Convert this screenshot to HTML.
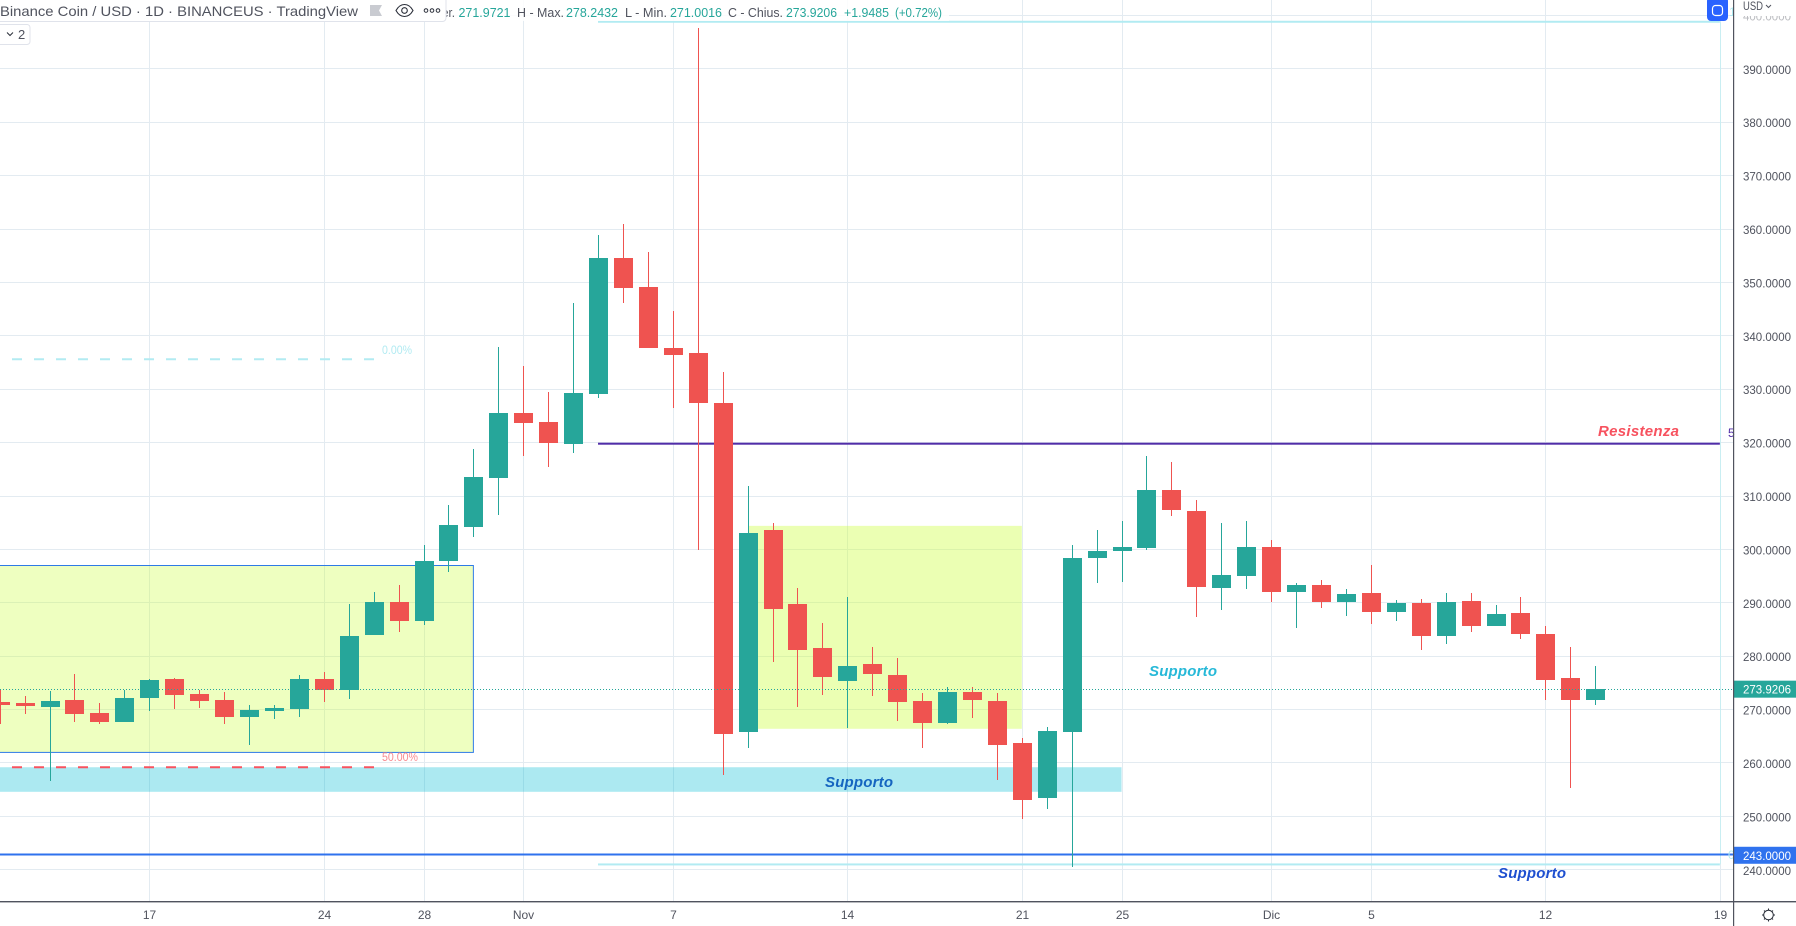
<!DOCTYPE html>
<html lang="en">
<head>
<meta charset="utf-8">
<title>Binance Coin / USD 1D chart</title>
<style>
html,body{margin:0;padding:0;background:#fff;width:1796px;height:926px;overflow:hidden}
svg{display:block;font-family:"Liberation Sans",sans-serif}
</style>
</head>
<body>
<svg id="chart" xmlns="http://www.w3.org/2000/svg" width="1796" height="926" viewBox="0 0 1796 926">
  <rect x="0" y="0" width="1796" height="926" fill="#ffffff"/>
  <g id="grid"></g>
  <g id="drawings"></g>
  <g id="candles"></g>
  <g id="lastline"></g>
  <g id="annot"></g>

  <!-- price axis -->
  <g id="priceaxis"></g>
  <rect x="1734" y="0" width="62" height="16" fill="#ffffff"/>
  <rect x="1734" y="16" width="62" height="6" fill="#ffffff" fill-opacity="0.6"/>
  <text x="1743" y="10" font-size="11.5" fill="#50535e" textLength="20" lengthAdjust="spacingAndGlyphs">USD</text>
  <polyline points="1766,5 1768.5,7.5 1771,5" fill="none" stroke="#50535e" stroke-width="1"/>

  <!-- time axis -->
  <g id="timeaxis"></g>
  <rect x="0" y="901" width="1796" height="1.4" fill="#50535e"/>
  <rect x="1733" y="0" width="1.2" height="926" fill="#50535e"/>

  <!-- settings gear -->
  <g stroke="#2a2e39" stroke-width="1" fill="none">
    <circle cx="1768.5" cy="915" r="4.8"/>
    <path d="M1768.5 908.5v2M1768.5 919.5v2M1762 915h2M1773 915h2M1764 910.5l1.3 1.3M1771.7 918.2l1.3 1.3M1764 919.5l1.3-1.3M1771.7 911.8l1.3-1.3"/>
  </g>

  <!-- fullscreen toggle -->
  <rect x="1707" y="-3" width="21" height="24" rx="4" fill="#2962ff"/>
  <rect x="1712.5" y="5.5" width="10" height="10" rx="3" fill="none" stroke="#ffffff" stroke-width="1.2"/>

  <!-- OHLC legend -->
  <rect x="446" y="0" width="503" height="21" fill="#ffffff" fill-opacity="0.85"/>
  <g font-size="13">
    <text x="442" y="17" fill="#50535e" textLength="13" lengthAdjust="spacingAndGlyphs">er.</text>
    <text x="458.5" y="17" fill="#26a69a" textLength="52" lengthAdjust="spacingAndGlyphs">271.9721</text>
    <text x="517" y="17" fill="#50535e" textLength="47" lengthAdjust="spacingAndGlyphs">H - Max.</text>
    <text x="566" y="17" fill="#26a69a" textLength="52" lengthAdjust="spacingAndGlyphs">278.2432</text>
    <text x="625" y="17" fill="#50535e" textLength="42" lengthAdjust="spacingAndGlyphs">L - Min.</text>
    <text x="670" y="17" fill="#26a69a" textLength="52" lengthAdjust="spacingAndGlyphs">271.0016</text>
    <text x="728" y="17" fill="#50535e" textLength="55" lengthAdjust="spacingAndGlyphs">C - Chius.</text>
    <text x="786" y="17" fill="#26a69a" textLength="51" lengthAdjust="spacingAndGlyphs">273.9206</text>
    <text x="844" y="17" fill="#26a69a" textLength="45" lengthAdjust="spacingAndGlyphs">+1.9485</text>
    <text x="895" y="17" fill="#26a69a" textLength="47" lengthAdjust="spacingAndGlyphs">(+0.72%)</text>
  </g>

  <!-- title pill -->
  <path d="M-2 -2H446V18a3.5 3.5 0 0 1-3.5 3.5H-2Z" fill="#ffffff" stroke="#e0e3eb" stroke-width="1"/>
  <text x="0" y="16" font-size="14" fill="#50535e" textLength="358" lengthAdjust="spacingAndGlyphs">Binance Coin / USD · 1D · BINANCEUS · TradingView</text>
  <path d="M370 5h12l-3 5.5 3 5.5h-12z" fill="#c9cbd1"/>
  <g fill="none" stroke="#2a2e39" stroke-width="1.1">
    <path d="M396 10.5c2.5-4.5 5.5-6 8.5-6s6 1.5 8.5 6c-2.5 4.5-5.5 6-8.5 6s-6-1.5-8.5-6z"/>
    <circle cx="404.5" cy="10.5" r="2.8"/>
  </g>
  <g fill="none" stroke="#2a2e39" stroke-width="1">
    <circle cx="426" cy="10.5" r="1.8"/><circle cx="432" cy="10.5" r="1.8"/><circle cx="438" cy="10.5" r="1.8"/>
  </g>

  <!-- collapse indicators -->
  <rect x="-4" y="24.5" width="34" height="20" rx="3" fill="#ffffff" stroke="#e0e3eb"/>
  <polyline points="7,32.5 10,35.5 13,32.5" fill="none" stroke="#2a2e39" stroke-width="1"/>
  <text x="18" y="39" font-size="13" fill="#50535e">2</text>
</svg>

<script>
// ---- chart data ----
var firstDate = '2022-10-11';
var priceTicks = [240,250,260,270,280,290,300,310,320,330,340,350,360,370,380,390,400];
var timeTickDates = ['2022-10-17','2022-10-24','2022-10-28','2022-11-01','2022-11-07','2022-11-14','2022-11-21','2022-11-25','2022-12-01','2022-12-05','2022-12-12','2022-12-19'];
var timeTickLabels = ['17','24','28','Nov','7','14','21','25','Dic','5','12','19'];
var opens = [271.5,271.3,270.6,271.9,269.5,267.8,272.3,275.8,273,271.9,
268.7,269.8,270.2,275.8,273.8,284.1,290.2,286.7,297.9,304.3,
313.5,325.6,324,319.8,329.2,354.7,349.2,337.8,336.9,327.5,
265.9,303.7,289.9,281.6,275.4,278.6,276.6,271.7,267.6,273.4,
271.7,263.8,253.6,265.9,298.5,299.8,300.4,311.2,307.3,292.9,
295.1,300.5,292.1,293.4,290.2,291.9,288.4,290,283.9,290.4,
285.7,288.2,284.2,276,271.97];
var highs = [273.9,272.6,273.6,276.8,271.3,273.8,275.8,276,273.8,273.4,
271,271,276.6,277.1,289.9,292.1,293.4,300.9,308.4,318.9,
338,334.4,329.6,346.2,359,361,355.8,344.7,397.7,333.3,
312,305,292.9,286.3,291.2,281.8,279.8,273.2,274.4,274.4,
273.2,264.8,266.9,300.9,303.7,305.4,317.6,316.5,309.4,305,
305.4,301.9,293.8,294.4,292.7,297.2,290.6,290.8,291.9,291.9,
289.7,291.2,285.7,281.8,278.24];
var lows = [267.4,269.3,256.8,267.8,267.4,267.8,269.8,270.2,270.4,267.4,
263.5,268.3,268.7,271.5,272.1,284.1,284.6,285.9,295.9,302.4,
306.5,317.6,315.5,318.1,328.5,346.2,337.8,326.6,300,257.8,
262.9,279,270.6,272.8,266.6,272.6,267.9,262.9,267.4,268.5,
256.9,249.6,251.5,240.6,293.8,294,300,306.4,287.4,288.7,
292.7,290.2,285.4,289.1,287.6,286.1,286.7,281.3,282.4,284.6,
285.7,283.3,271.9,255.5,271];
var closes = [271,270.8,271.7,269.3,267.8,272.3,275.6,272.8,271.7,268.7,
270,270.4,275.8,273.8,283.9,290.2,286.7,297.9,304.7,313.6,
325.6,323.8,320,329.4,354.7,349,337.8,336.5,327.5,265.5,
303.2,289,281.3,276.2,278.3,276.8,271.5,267.6,273.4,271.9,
263.5,253.2,266.1,298.5,299.8,300.5,311.2,307.5,293.1,295.3,
300.5,292.1,293.4,290.2,291.7,288.4,290,283.9,290.2,285.7,
288,284.2,275.6,271.8,273.92];
var lastPrice = 273.9206;
var supportLevel = 243;
var resistanceLevel = 320;
var fibZeroLevel = 335.7;
var fibHalfLevel = 259.3;
var fibOuterHigh = 398.9;
var fibOuterLow = 241.1;
var bandHigh = 259.3;
var bandLow = 254.7;
var leftBoxHigh = 297.1;
var leftBoxLow = 262.1;
var midBoxHigh = 304.5;
var midBoxLow = 266.5;

// ---- axis functions ----
var PLOT_RIGHT = 1733;
function yOf(p){ return 69.3 + (390 - p) * 5.34; }
function xOfIndex(i){ return -0.3 + i * 24.93; }
function xOfDate(d){
  var ms = Date.parse(d + 'T00:00:00Z') - Date.parse(firstDate + 'T00:00:00Z');
  return xOfIndex(ms / 86400000);
}
function fmt(p){ return p.toFixed(4); }

var NS = 'http://www.w3.org/2000/svg';
function mk(parent, tag, attrs, txt){
  var el = document.createElementNS(NS, tag);
  for (var k in attrs) el.setAttribute(k, attrs[k]);
  if (txt !== undefined) el.textContent = txt;
  parent.appendChild(el);
  return el;
}
var grid = document.getElementById('grid');
var drawings = document.getElementById('drawings');
var candles = document.getElementById('candles');
var lastline = document.getElementById('lastline');
var annot = document.getElementById('annot');
var priceaxis = document.getElementById('priceaxis');
var timeaxis = document.getElementById('timeaxis');
var GRID = '#e3ebf1', UP = '#26a69a', DOWN = '#ef5350', AXIS = '#50535e';

// ---- grid and axis labels ----
priceTicks.forEach(function(p){
  var y = Math.round(yOf(p)) - 0.5;
  var g = mk(grid, 'line', {x1:0, x2:PLOT_RIGHT, y1:y, y2:y, stroke:GRID, 'stroke-width':1});
  
  
  var t = mk(priceaxis, 'text', {x:1743, y:yOf(p) + 4.5, 'font-size':11.8, fill:AXIS, textLength:48, lengthAdjust:'spacingAndGlyphs'}, fmt(p));
  
  
});
timeTickDates.forEach(function(d, i){
  var x = Math.round(xOfDate(d)) + 0.5;
  var g = mk(grid, 'line', {x1:x, x2:x, y1:0, y2:901, stroke:GRID, 'stroke-width':1});
  
  
  var t = mk(timeaxis, 'text', {x:x, y:919, 'font-size':12, fill:AXIS, 'text-anchor':'middle'}, timeTickLabels[i]);
  
  
});

// ---- drawings ----
var xLeft = xOfDate('2022-10-01');
var xFibStart = xOfDate('2022-11-04');
var xFibEnd = xOfDate('2022-12-19');

var band = mk(drawings, 'rect', {x:xLeft, y:yOf(bandHigh), width:xOfDate('2022-11-25') - xLeft, height:yOf(bandLow) - yOf(bandHigh), fill:'rgba(0,188,212,0.325)'});



var leftBox = mk(drawings, 'rect', {x:xLeft, y:Math.round(yOf(leftBoxHigh)) + 0.5, width:xOfDate('2022-10-30') - xLeft, height:yOf(leftBoxLow) - yOf(leftBoxHigh), fill:'rgba(204,255,64,0.33)', stroke:'#2e7ae6', 'stroke-width':1});



var midX = xOfDate('2022-11-10') + 1;
var midBox = mk(drawings, 'rect', {x:midX, y:yOf(midBoxHigh), width:xOfDate('2022-11-21') - midX, height:yOf(midBoxLow) - yOf(midBoxHigh), fill:'rgba(204,255,64,0.4)'});



var fibTop = mk(drawings, 'rect', {x:xFibStart, y:yOf(fibOuterHigh) - 1, width:xFibEnd - xFibStart, height:2, fill:'#b2ebf2'});



var fibBottom = mk(drawings, 'rect', {x:xFibStart, y:yOf(fibOuterLow) - 1, width:xFibEnd - xFibStart, height:2, fill:'#b2ebf2'});



var fibEdge = mk(drawings, 'line', {x1:Math.round(xFibEnd) + 0.5, x2:Math.round(xFibEnd) + 0.5, y1:yOf(fibOuterHigh), y2:yOf(fibOuterLow), stroke:'#c9eef2', 'stroke-width':1});



var resLine = mk(drawings, 'rect', {x:xFibStart, y:yOf(resistanceLevel) - 0.4, width:xFibEnd - xFibStart, height:2, fill:'#512da8'});



var supLine = mk(drawings, 'rect', {x:0, y:Math.round(yOf(supportLevel)) - 0.5, width:PLOT_RIGHT, height:2, fill:'#2f72ee'});



var dashCyan = mk(drawings, 'line', {x1:12, x2:375, y1:yOf(fibZeroLevel), y2:yOf(fibZeroLevel), stroke:'#b2ebf2', 'stroke-width':2, 'stroke-dasharray':'10 12'});



var dashRed = mk(drawings, 'line', {x1:12, x2:375, y1:yOf(fibHalfLevel), y2:yOf(fibHalfLevel), stroke:'#f7525f', 'stroke-width':2, 'stroke-dasharray':'10 12'});



// ---- candles ----
opens.forEach(function(o, i){
  var c = closes[i], col = c >= o ? UP : DOWN;
  var cx = Math.round(xOfIndex(i));
  var top = Math.round(yOf(Math.max(o, c)));
  var bot = Math.round(yOf(Math.min(o, c)));
  var hy = Math.round(yOf(highs[i]));
  var ly = Math.round(yOf(lows[i]));
  var w = mk(candles, 'rect', {x:cx, y:hy, width:1, height:Math.max(1, ly - hy), fill:col});
  
  
  var b = mk(candles, 'rect', {x:cx - 9, y:top, width:19, height:Math.max(1, bot - top), fill:col});
  
  
});

// ---- last price line ----
var ly0 = Math.round(yOf(lastPrice)) + 0.5;
var dotted = mk(lastline, 'line', {x1:0, x2:PLOT_RIGHT, y1:ly0, y2:ly0, stroke:'#26a69a', 'stroke-width':1, 'stroke-dasharray':'1 2'});



// ---- annotation text ----
var a1 = mk(annot, 'text', {x:825, y:787, 'font-size':15, 'font-style':'italic', 'font-weight':'bold', fill:'#1565c0', textLength:68, lengthAdjust:'spacing'}, 'Supporto');


var a2 = mk(annot, 'text', {x:1149, y:676, 'font-size':15, 'font-style':'italic', 'font-weight':'bold', fill:'#27b9d8', textLength:68, lengthAdjust:'spacing'}, 'Supporto');


var a3 = mk(annot, 'text', {x:1498, y:878, 'font-size':15, 'font-style':'italic', 'font-weight':'bold', fill:'#1e4fd0', textLength:68, lengthAdjust:'spacing'}, 'Supporto');


var a4 = mk(annot, 'text', {x:1598, y:436, 'font-size':15, 'font-style':'italic', 'font-weight':'bold', fill:'#f7525f', textLength:81, lengthAdjust:'spacing'}, 'Resistenza');


var a5 = mk(annot, 'text', {x:382, y:354, 'font-size':12, fill:'#b2ebf2', textLength:30, lengthAdjust:'spacingAndGlyphs'}, '0.00%');


var a6 = mk(annot, 'text', {x:382, y:761, 'font-size':12, fill:'#f88b90', textLength:36, lengthAdjust:'spacingAndGlyphs'}, '50.00%');


var a7 = mk(annot, 'text', {x:1728, y:437, 'font-size':12, fill:'#512da8'}, '5');


var a8 = mk(annot, 'text', {x:1728, y:859, 'font-size':12, fill:'#b2ebf2'}, '0');


var a9 = mk(annot, 'text', {x:1729, y:16, 'font-size':12, fill:'#b2ebf2'}, '1');



// ---- price tags ----
var tagG = mk(priceaxis, 'rect', {x:1733, y:yOf(lastPrice) - 8.5, width:63, height:17, fill:'#26a69a'});


var tagGt = mk(priceaxis, 'text', {x:1743, y:yOf(lastPrice) + 4.5, 'font-size':11.8, fill:'#ffffff', textLength:48, lengthAdjust:'spacingAndGlyphs'}, fmt(lastPrice));


var tagB = mk(priceaxis, 'rect', {x:1733, y:yOf(supportLevel) - 7.5, width:63, height:17, fill:'#2f72ee'});


var tagBt = mk(priceaxis, 'text', {x:1743, y:yOf(supportLevel) + 5.5, 'font-size':11.8, fill:'#ffffff', textLength:48, lengthAdjust:'spacingAndGlyphs'}, fmt(supportLevel));


</script>
</body>
</html>
